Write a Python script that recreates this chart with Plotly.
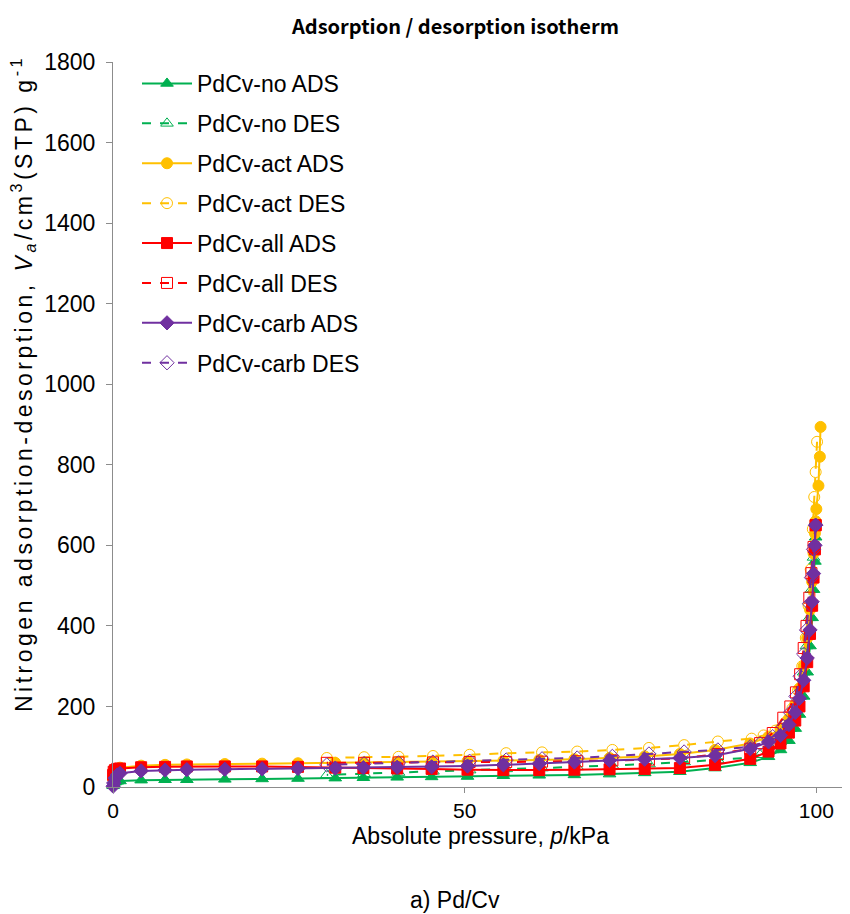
import plotly.graph_objects as go

# adsorption branch pressures (kPa)
p_ads = [0.02, 0.1, 0.3, 0.6, 1.0, 4.0, 7.4, 10.5, 15.9, 21.2, 26.3, 31.6, 35.6, 40.4,
         45.3, 50.4, 55.5, 60.6, 65.6, 70.6, 75.6, 80.6, 85.6, 90.6, 93.2, 94.9, 96.1,
         97.0, 97.6, 98.2, 98.7, 99.1, 99.4, 99.6, 99.8, 99.9]
# desorption branch pressures (kPa), high -> low
p_des = [99.9, 99.6, 99.3, 99.0, 98.6, 98.2, 97.7, 97.1, 96.3, 95.3, 93.8, 92.0, 90.6,
         86.0, 81.2, 76.2, 71.0, 66.0, 61.0, 55.9, 50.7, 45.5, 40.6, 35.7, 30.4]

no_ads = [3, 8, 12, 14, 15, 17, 18, 18, 19, 20, 21, 22, 23, 24, 25, 26, 28, 29, 30, 32,
          35, 38, 47, 60, 75, 92, 115, 145, 180, 225, 285, 350, 420, 490, 560, 620]
no_des = [660, 570, 490, 420, 350, 285, 225, 180, 145, 115, 92, 80, 73, 67, 62, 57, 53,
          50, 47, 45, 42, 39, 36, 33, 30]

act_p_ads = p_ads + [100.0, 100.3, 100.5, 100.6]
act_ads = [20, 32, 40, 45, 48, 53, 55, 56, 57, 58, 59, 60, 61, 62, 63, 64, 65, 67, 69, 72,
           76, 82, 92, 108, 125, 145, 170, 205, 245, 300, 370, 440, 510, 580, 630, 660,
           690, 748, 820, 894]
act_p_des = [100.1, 99.9, 99.7, 99.5, 99.2, 98.9, 98.5, 98.0, 97.4, 96.6, 95.6, 94.2,
             92.5, 90.8, 86.0, 81.2, 76.2, 71.0, 66.0, 61.0, 55.9, 50.7, 45.5, 40.6, 35.7, 30.4]
act_des = [857, 782, 720, 640, 540, 450, 370, 300, 240, 195, 160, 140, 128, 120, 113,
           104, 97, 92, 88, 86, 84, 80, 77, 75, 74, 72]

all_ads = [30, 38, 42, 45, 46, 49, 50, 51, 51, 51, 50, 48, 47, 46, 45, 43, 42, 42, 43, 44,
           45, 47, 55, 70, 88, 108, 135, 165, 200, 250, 310, 380, 450, 520, 590, 650]
all_des = [650, 596, 531, 470, 400, 345, 280, 235, 200, 172, 134, 109, 95, 82, 72, 68,
           66, 64, 63, 62, 62, 61, 61, 60, 60]

carb_ads = [2, 10, 22, 30, 34, 40, 42, 43, 44, 45, 46, 47, 48, 49, 50, 52, 55, 58, 62, 66,
            69, 72, 78, 95, 112, 128, 155, 185, 220, 265, 320, 390, 460, 530, 600, 650]
carb_des = [650, 590, 520, 455, 390, 330, 275, 225, 185, 150, 125, 108, 100, 92, 87, 82,
            76, 72, 70, 67, 64, 62, 60, 58, 55]

series = [
    ("PdCv-no ADS", p_ads, no_ads, "#00B050", "triangle-up", "solid"),
    ("PdCv-no DES", p_des, no_des, "#00B050", "triangle-up-open", "dash"),
    ("PdCv-act ADS", act_p_ads, act_ads, "#FFC000", "circle", "solid"),
    ("PdCv-act DES", act_p_des, act_des, "#FFC000", "circle-open", "dash"),
    ("PdCv-all ADS", p_ads, all_ads, "#FF0000", "square", "solid"),
    ("PdCv-all DES", p_des, all_des, "#FF0000", "square-open", "dash"),
    ("PdCv-carb ADS", p_ads, carb_ads, "#7030A0", "diamond", "solid"),
    ("PdCv-carb DES", p_des, carb_des, "#7030A0", "diamond-open", "dash"),
]

fig = go.Figure()
for i, (name, x, y, col, sym, dash) in enumerate(series):
    fig.add_trace(
        go.Scatter(
            x=x,
            y=y,
            name=name,
            legendgroup=str(i),
            mode="lines+markers",
            line=dict(color=col, width=2, dash=dash),
            marker=dict(color=col, symbol=sym, size=11, line=dict(color=col, width=1)),
            cliponaxis=False,
        )
    )

# page has an 8px body margin, so the figure is drawn from (8, 8)
L, T, PW, PH = 113, 62, 735, 725


def px(sx):
    return (sx - L) / PW


def py(sy):
    return (T + PH - sy) / PH


ytitle = ('<span style="letter-spacing:3.5px">Nitrogen adsorption-desorption, '
          '<i>V<sub>a</sub></i>/cm<sup>3</sup>(STP) g<sup>-1</sup></span>')

axis_col = "#8c8c8c"
fig.update_layout(
    width=842,
    height=906,
    paper_bgcolor="white",
    plot_bgcolor="white",
    margin=dict(l=105, r=2, t=54, b=127),
    font=dict(family="Liberation Sans, Arial", size=23, color="black"),
    showlegend=True,
    legend=dict(
        x=px(137), y=1.0, xanchor="left", yanchor="top",
        font=dict(size=23),
        tracegroupgap=7,
        itemwidth=50,
        bgcolor="rgba(0,0,0,0)",
    ),
    annotations=[
        dict(text="Adsorption / desorption isotherm", x=px(455), y=py(25),
             font=dict(family="Noto Sans CJK JP", size=20, weight="bold")),
        dict(text="Absolute pressure, <i>p</i>/kPa", x=px(480), y=py(836)),
        dict(text=ytitle, x=px(23), y=py(384), textangle=-90),
        dict(text="a) Pd/Cv", x=px(455), y=py(900)),
    ],
)
fig.update_annotations(xref="paper", yref="paper", xanchor="center", yanchor="middle",
                       showarrow=False)

fig.update_xaxes(
    range=[0, 104.5],
    tickvals=[0, 50, 100],
    showgrid=False,
    zeroline=False,
    showline=True,
    linecolor=axis_col,
    linewidth=1,
    ticks="outside",
    ticklen=5,
    tickcolor=axis_col,
    tickfont=dict(size=21),
)
fig.update_yaxes(
    range=[0, 1800],
    dtick=200,
    showgrid=False,
    zeroline=False,
    showline=True,
    linecolor=axis_col,
    linewidth=1,
    ticks="outside",
    ticklen=6,
    tickcolor=axis_col,
    ticklabelstandoff=6,
)

fig.write_html("out.html")
